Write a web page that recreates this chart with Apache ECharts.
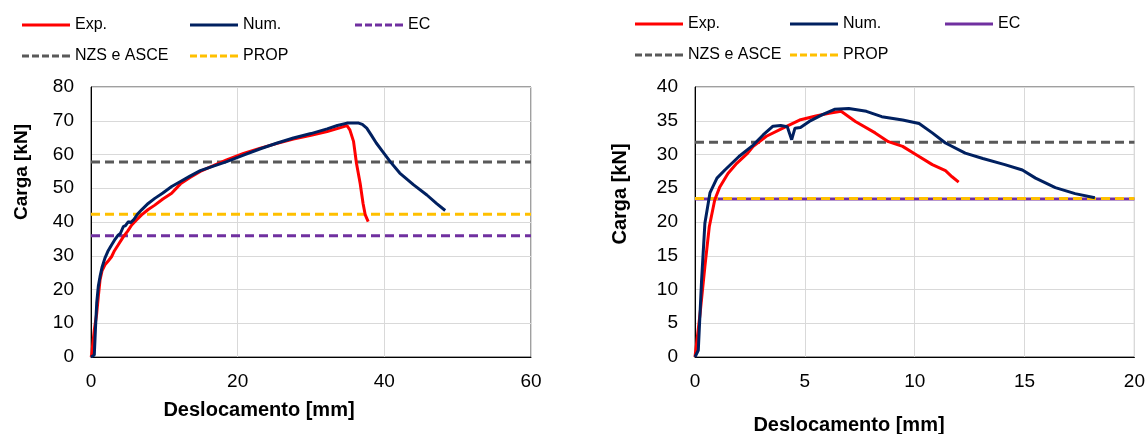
<!DOCTYPE html>
<html>
<head>
<meta charset="utf-8">
<script src="https://cdn.jsdelivr.net/npm/echarts@6/dist/echarts.min.js"></script>
<style>
  html, body { margin: 0; padding: 0; background: #fff; }
  #main { width: 1148px; height: 434px; }
</style>
</head>
<body>
<div id="main"></div>
<script>
// left chart: [deslocamento mm, carga kN]
const expLeft = [
  [0, 0], [0.1, 0.6], [0.2, 3], [0.45, 8], [0.78, 12.9], [1.0, 18], [1.23, 22.8], [1.5, 25.5],
  [1.9, 27.3], [2.4, 28.6], [2.8, 29.7], [3.2, 31.5], [3.7, 33.2], [4.4, 35.6], [5.0, 37.3],
  [5.55, 39.1], [6.2, 40.6], [6.9, 42.1], [7.8, 43.7], [8.7, 45], [9.8, 46.8], [11.0, 48.5],
  [12.2, 51.3], [13.5, 53.2], [14.9, 55], [16.6, 56.6], [18.5, 58.4], [20.8, 60.3],
  [23.1, 61.9], [25.4, 63.3], [27.6, 64.6], [30.0, 65.7], [32.2, 66.8], [33.8, 67.8],
  [34.9, 68.6], [35.3, 67.3], [35.8, 63.9], [36.2, 57.4], [36.7, 51.5], [37.1, 45.5],
  [37.4, 42.1], [37.8, 40.1]
];
const numLeft = [
  [0, 0], [0.45, 0.6], [0.6, 8], [0.78, 16], [1.0, 21], [1.23, 23.8], [1.5, 26.5], [1.9, 29.3],
  [2.3, 31.3], [2.8, 33.2], [3.2, 34.6], [3.7, 36.1], [4.0, 36.6], [4.4, 38.6], [4.7, 38.9],
  [5.1, 40.1], [5.4, 39.8], [5.8, 40.6], [6.3, 42.2], [6.9, 43.6], [7.8, 45.5], [8.7, 47],
  [9.8, 48.6], [11.0, 50.5], [12.2, 52], [13.5, 53.6], [14.9, 55.2], [16.5, 56.4],
  [18.5, 57.9], [20.8, 59.8], [23.1, 61.7], [25.4, 63.4], [27.6, 64.9], [30.0, 66.2],
  [32.2, 67.6], [33.6, 68.6], [34.9, 69.3], [36.5, 69.3], [37.0, 68.9], [37.6, 67.8],
  [38.2, 65.8], [38.9, 63.4], [39.8, 60.8], [40.8, 57.9], [42.1, 54.5], [44.0, 51],
  [45.8, 48], [47.1, 45.5], [48.3, 43.4]
];
// EC, NZS e ASCE, PROP
const refLeft = { ec: 35.9, nzs: 57.8, prop: 42.3 };

// right chart
const expRight = [
  [0, 0], [0.23, 6.4], [0.45, 13.4], [0.65, 19.3], [0.9, 23.3], [1.13, 25.2], [1.5, 27.2],
  [1.9, 28.7], [2.4, 30.2], [2.65, 31.2], [3.25, 32.7], [4.0, 33.9], [4.76, 35.1],
  [5.5, 35.7], [6.1, 36.1], [6.65, 36.4], [7.3, 34.9], [8.2, 33.2], [8.8, 31.9],
  [9.45, 31.2], [10.05, 30], [10.8, 28.5], [11.4, 27.6], [11.7, 26.7], [12.0, 25.9]
];
const numRight = [
  [0, 0], [0.15, 1], [0.3, 11.4], [0.45, 19.8], [0.68, 24.3], [1.0, 26.5], [1.36, 27.7],
  [2.0, 29.7], [2.65, 31.4], [3.1, 32.9], [3.55, 34.2], [3.9, 34.3], [4.2, 34.1],
  [4.4, 32.2], [4.55, 33.9], [4.8, 34], [5.2, 34.9], [5.8, 35.9], [6.35, 36.7], [7.0, 36.8],
  [7.8, 36.4], [8.5, 35.6], [9.45, 35.1], [10.2, 34.6], [10.8, 33.2], [11.4, 31.7],
  [12.3, 30.2], [13.1, 29.4], [14.1, 28.5], [14.9, 27.7], [15.5, 26.5], [16.4, 25.1],
  [17.3, 24.2], [18.2, 23.6]
];
const refRight = { ec: 23.4, nzs: 31.8, prop: 23.5 };

const xTicksLeft = { min: 0, max: 60, interval: 20 };
const yTicksLeft = { min: 0, max: 80, interval: 10 };
const xTicksRight = { min: 0, max: 20, interval: 5 };
const yTicksRight = { min: 0, max: 40, interval: 5 };

const RED = '#ff0000', NAVY = '#002060', PURPLE = '#7030a0', GREY = '#595959', GOLD = '#ffc000';
const FONT = 'Liberation Sans, Arial, sans-serif';
const DASH = [9, 5];
// legend line samples (48 x 3)
const ICON_SOLID = 'path://M0,0h48v3h-48z';
const ICON_DASH = 'path://M0,0h7v3h-7z M10,0h7v3h-7z M20,0h7v3h-7z M30,0h7v3h-7z M40,0h8v3h-8z';

function axisX(idx, t) {
  return {
    type: 'value', gridIndex: idx, min: t.min, max: t.max, interval: t.interval,
    axisLine: { show: true, lineStyle: { color: '#000', width: 1 } },
    axisTick: { show: false },
    axisLabel: { color: '#000', fontSize: 19, fontFamily: FONT, margin: 15 },
    splitLine: { show: true, lineStyle: { color: '#d9d9d9', width: 1 } }
  };
}
function axisY(idx, t) {
  return {
    type: 'value', gridIndex: idx, min: t.min, max: t.max, interval: t.interval,
    axisLine: { show: true, lineStyle: { color: '#000', width: 1 } },
    axisTick: { show: false },
    axisLabel: { color: '#000', fontSize: 19, fontFamily: FONT, margin: 17 },
    splitLine: { show: true, lineStyle: { color: '#d9d9d9', width: 1 } }
  };
}
function curve(name, data, color, idx) {
  return {
    name: name, type: 'line', xAxisIndex: idx, yAxisIndex: idx, data: data,
    symbol: 'none', lineStyle: { color: color, width: 3 }, itemStyle: { color: color },
    animation: false, z: 5
  };
}
function refLine(name, val, xmax, color, idx, dashed) {
  return {
    name: name, type: 'line', xAxisIndex: idx, yAxisIndex: idx,
    data: [[0, val], [xmax, val]], symbol: 'none',
    lineStyle: { color: color, width: 3, type: dashed ? DASH : 'solid' },
    itemStyle: { color: color }, animation: false, z: 3
  };
}
function leg(name, left, top, color, dashed) {
  return {
    show: true, left: left, top: top, padding: 0, itemWidth: 48, itemHeight: 3, itemGap: 0,
    textStyle: { color: '#000', fontSize: 16, fontFamily: FONT },
    selectedMode: false,
    data: [{ name: name, icon: dashed ? ICON_DASH : ICON_SOLID, itemStyle: { color: color, borderWidth: 0 } }]
  };
}

const chart = echarts.init(document.getElementById('main'));
chart.setOption({
  backgroundColor: '#fff',
  animation: false,
  grid: [
    { left: 91, top: 87, width: 440, height: 270, show: true, borderColor: '#404040', borderWidth: 1, containLabel: false },
    { left: 695, top: 87, width: 441, height: 270, show: true, borderColor: '#404040', borderWidth: 1, containLabel: false }
  ],
  xAxis: [axisX(0, xTicksLeft), axisX(1, xTicksRight)],
  yAxis: [axisY(0, yTicksLeft), axisY(1, yTicksRight)],
  legend: [
    leg('Exp.', 22, 17, RED, false),
    leg('Num.', 190, 17, NAVY, false),
    leg('EC', 355, 17, PURPLE, true),
    leg('NZS e ASCE', 22, 48, GREY, true),
    leg('PROP', 190, 48, GOLD, true),
    leg('Exp.', 635, 16, RED, false),
    leg('Num.', 790, 16, NAVY, false),
    leg('EC', 945, 16, PURPLE, false),
    leg('NZS e ASCE', 635, 47, GREY, true),
    leg('PROP', 790, 47, GOLD, true)
  ],
  graphic: [
    { type: 'text', rotation: Math.PI / 2, x: 22, y: 172, style: { text: 'Carga [kN]', fill: '#000', font: 'bold 19px ' + FONT, align: 'center', verticalAlign: 'middle' } },
    { type: 'text', style: { x: 259, y: 410, text: 'Deslocamento [mm]', fill: '#000', font: 'bold 20px ' + FONT, align: 'center', verticalAlign: 'middle' } },
    { type: 'text', rotation: Math.PI / 2, x: 620, y: 194, style: { text: 'Carga [kN]', fill: '#000', font: 'bold 20px ' + FONT, align: 'center', verticalAlign: 'middle' } },
    { type: 'text', style: { x: 849, y: 425, text: 'Deslocamento [mm]', fill: '#000', font: 'bold 20px ' + FONT, align: 'center', verticalAlign: 'middle' } }
  ],
  series: [
    refLine('EC', refLeft.ec, xTicksLeft.max, PURPLE, 0, true),
    refLine('NZS e ASCE', refLeft.nzs, xTicksLeft.max, GREY, 0, true),
    refLine('PROP', refLeft.prop, xTicksLeft.max, GOLD, 0, true),
    curve('Exp.', expLeft, RED, 0),
    curve('Num.', numLeft, NAVY, 0),
    refLine('EC', refRight.ec, xTicksRight.max, PURPLE, 1, false),
    refLine('NZS e ASCE', refRight.nzs, xTicksRight.max, GREY, 1, true),
    refLine('PROP', refRight.prop, xTicksRight.max, GOLD, 1, true),
    curve('Exp.', expRight, RED, 1),
    curve('Num.', numRight, NAVY, 1)
  ]
});
</script>
</body>
</html>
